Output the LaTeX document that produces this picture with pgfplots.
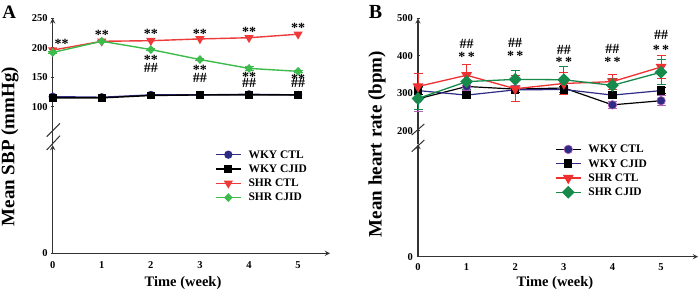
\documentclass[border=0pt]{standalone}
\usepackage{pgfplots}
\pgfplotsset{compat=1.18}
\usepackage{fontspec}
\setmainfont{Liberation Serif}
\definecolor{navyA}{HTML}{2E2B85}
\definecolor{redA}{HTML}{EE3A3A}
\definecolor{greenA}{HTML}{3DBB4C}
\definecolor{redB}{HTML}{EE3030}
\definecolor{greenB}{HTML}{168A4A}
\definecolor{purpB}{HTML}{B060B8}
\definecolor{axc}{HTML}{333333}

\tikzset{ann/.style={font=\fontsize{14}{14}\selectfont\bfseries, inner sep=0pt}}
\pgfplotsset{
  brk/.style={scale only axis, clip=false,
    axis line style={axc, line width=1.3pt, -},
    tick style={axc, line width=1pt}, tick align=outside, major tick length=3pt,
    ticklabel style={font=\fontsize{10.5}{12}\selectfont\bfseries},
    /pgf/number format/assume math mode=true,
    xmin=0},
  upper/.style={brk, axis x line=none, axis y line=left,
    every axis y label/.style={at={(axis description cs:#1)}, anchor=center, rotate=90,
      font=\fontsize{19}{20}\selectfont\bfseries}},
  lower/.style={brk, axis lines=left, ymin=0, ymax=1, ytick={0}, xtick={0,...,5},
    x tick style={draw=none},
    legend cell align=left,
    legend image code/.code={\draw[mark repeat=2,mark phase=2,##1] plot coordinates {(0pt,0pt) (12.5pt,0pt) (25pt,0pt)};},
    legend style={draw=none, fill=none, anchor=north west, inner sep=0pt,
      font=\fontsize{11.5}{12}\selectfont\bfseries, row sep=1pt,
      nodes={inner sep=1pt, text height=9pt, text depth=2.3pt},
      /tikz/every odd column/.append style={column sep=6pt}}},
  wkyctlA/.style={navyA, line width=1.4pt, mark=*, mark size=3.4pt, mark options={solid, fill=navyA, draw=navyA}},
  wkycjidA/.style={black, line width=1.4pt, mark=square*, mark size=3.2pt, mark options={solid, fill=black, draw=black}},
  shrctlA/.style={redA, line width=1.4pt, mark=triangle*, mark size=4pt, mark options={solid, rotate=180, fill=redA, draw=redA}},
  shrcjidA/.style={greenA, line width=1.4pt, mark=diamond*, mark size=3.4pt, mark options={solid, xscale=1.3, fill=greenA, draw=greenA}},
  ebar/.style={error bars/y dir=both, error bars/y explicit,
    error bars/error bar style={#1, line width=1pt, solid},
    error bars/error mark options={rotate=90, mark size=4.5pt, #1, line width=1pt}},
  wkyctlB/.style={black, line width=1.2pt, mark=*, mark size=4.3pt, mark options={solid, fill=navyA, draw=purpB, line width=0.6pt}},
  wkycjidB/.style={navyA, line width=1.2pt, mark=square*, mark size=3.6pt, mark options={solid, fill=black, draw=black}},
  shrctlB/.style={redB, line width=1.3pt, mark=triangle*, mark size=5pt, mark options={solid, rotate=180, fill=redB, draw=redB}},
  shrcjidB/.style={greenB, line width=1.3pt, mark=diamond*, mark size=5.5pt, mark options={solid, xscale=1.33, fill=greenB, draw=greenB}},
}

\begin{document}
\begin{tikzpicture}
\useasboundingbox (0pt,0pt) rectangle (700pt,295pt);

% ---------------- Panel A ----------------
\begin{axis}[upper={-0.154,-0.012}, at={(52.7pt,150pt)}, anchor=south west,
  width=277.3pt, height=126.7pt, xmax=5.65, ymin=35, ymax=250,
  ytick={100,150,200,250}, ylabel={Mean SBP (mmHg)}]
\addplot[wkyctlA] coordinates {(0,117) (1,116) (2,120) (3,120) (4,121) (5,120)};
\addplot[wkycjidA] coordinates {(0,115) (1,115) (2,119) (3,120) (4,120) (5,120)};
\addplot[shrctlA] coordinates {(0,196) (1,211) (2,212) (3,215) (4,217) (5,223)};
\addplot[shrcjidA, ebar=greenA] table[x index=0, y index=1, y error index=2] {
0 192 2
1 211 2
2 197 2
3 180 2
4 165 4
5 160 2
};
\node[ann] at (axis cs:0.18,206) {**};
\node[ann] at (axis cs:1,222) {**};
\node[ann] at (axis cs:2,223) {**};
\node[ann] at (axis cs:3,224) {**};
\node[ann] at (axis cs:4,227) {**};
\node[ann] at (axis cs:5,233) {**};
\node[ann] at (axis cs:2,180) {**};
\node[ann] at (axis cs:2,166) {\#\#};
\node[ann] at (axis cs:3,162) {**};
\node[ann] at (axis cs:3,149) {\#\#};
\node[ann] at (axis cs:4,151) {**};
\node[ann] at (axis cs:4,141) {\#\#};
\node[ann] at (axis cs:5,147) {**};
\node[ann] at (axis cs:5,140) {\#\#};
\end{axis}

\begin{axis}[lower, at={(52.7pt,41.7pt)}, anchor=south west,
  width=277.3pt, height=108.3pt, xmax=5.65,
  xticklabel style={yshift=-3.5pt},
  xlabel={Time (week)},
  every axis x label/.style={at={(axis description cs:0.47,-0.274)}, anchor=center,
    font=\fontsize{14.5}{15}\selectfont\bfseries},
  legend style={at={(0.585,0.974)}}]
\addlegendimage{wkyctlA}\addlegendentry{WKY CTL}
\addlegendimage{wkycjidA}\addlegendentry{WKY CJID}
\addlegendimage{shrctlA}\addlegendentry{SHR CTL}
\addlegendimage{shrcjidA}\addlegendentry{SHR CJID}
\end{axis}

\draw[axc, line width=1pt] (46.7pt,158.3pt) -- (60pt,171.7pt);
\draw[axc, line width=1pt] (46.7pt,145pt) -- (60pt,159.3pt);
\node[font=\fontsize{19}{19}\selectfont\bfseries] at (9.2pt,283pt) {A};

% ---------------- Panel B ----------------
\begin{axis}[upper={-0.146,0.0}, at={(418pt,151pt)}, anchor=south west,
  width=280pt, height=125.7pt, xmax=5.76, ymin=164.5, ymax=500,
  ytick={200,300,400,500}, ylabel={Mean heart rate (bpm)}]
\addplot[wkyctlB, ebar=purpB] table[x index=0, y index=1, y error index=2] {
0 285 34
1 318 12
2 311 10
3 314 12
4 269 9
5 280 14
};
\addplot[wkycjidB, ebar=black] table[x index=0, y index=1, y error index=2] {
0 307 10
1 295 9
2 309 8
3 310 8
4 295 8
5 307 9
};
\addplot[shrctlB, ebar=redB] table[x index=0, y index=1, y error index=2] {
0 318 34
1 348 28
2 312 35
3 326 30
4 331 20
5 370 30
};
\addplot[shrcjidB, ebar=greenB] table[x index=0, y index=1, y error index=2] {
0 286 30
1 331 22
2 337 25
3 336 35
4 321 17
5 356 34
};
\node[ann] at (axis cs:1,432) {\#\#};
\node[ann] at (axis cs:2,433) {\#\#};
\node[ann] at (axis cs:3,416) {\#\#};
\node[ann] at (axis cs:4,417) {\#\#};
\node[ann] at (axis cs:5,456) {\#\#};
\node[ann] at (axis cs:1,396) {*\,*};
\node[ann] at (axis cs:2,399) {*\,*};
\node[ann] at (axis cs:3,383) {*\,*};
\node[ann] at (axis cs:4,383) {*\,*};
\node[ann] at (axis cs:5,416) {*\,*};
\end{axis}

\begin{axis}[lower, at={(418pt,38.3pt)}, anchor=south west,
  width=280pt, height=112.7pt, xmax=5.76,
  xticklabel style={yshift=-2pt},
  xlabel={Time (week)},
  every axis x label/.style={at={(axis description cs:0.489,-0.233)}, anchor=center,
    font=\fontsize{14.5}{15}\selectfont\bfseries},
  legend style={at={(0.489,1.013)}}]
\addlegendimage{wkyctlB}\addlegendentry{WKY CTL}
\addlegendimage{wkycjidB}\addlegendentry{WKY CJID}
\addlegendimage{shrctlB}\addlegendentry{SHR CTL}
\addlegendimage{shrcjidB}\addlegendentry{SHR CJID}
\end{axis}

\draw[axc, line width=1pt] (411.7pt,160pt) -- (424.3pt,171pt);
\draw[axc, line width=1pt] (411.7pt,143.3pt) -- (424.3pt,155pt);
\node[font=\fontsize{20}{20}\selectfont\bfseries] at (375.5pt,283.3pt) {B};
\end{tikzpicture}
\end{document}
